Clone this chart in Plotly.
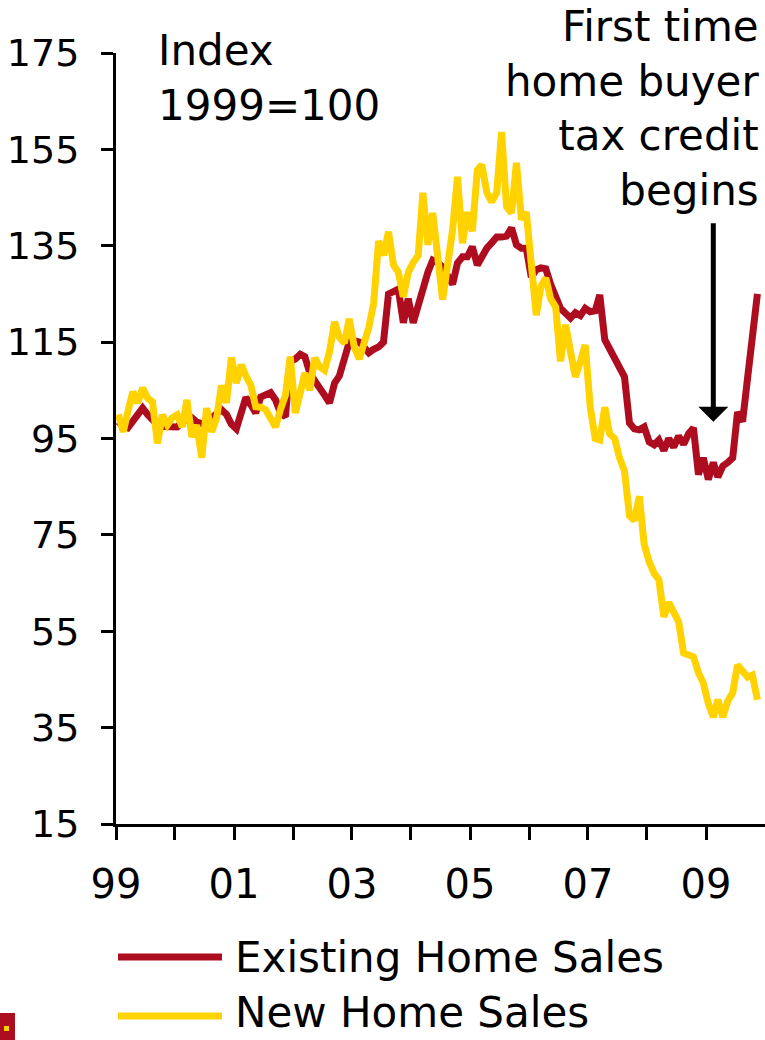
import pandas as pd
import plotly.graph_objects as go

# ---------------- data (index, 1999 = 100), monthly Jan-1999 .. Nov-2009 ----------------
start_month = "1999-01-01"
n_months = 131

existing_home_sales = [
    98.5, 97.5, 97.2, 98.5, 99.5, 101.3, 100.0, 99.0, 97.8, 97.5,
    97.4, 97.4, 97.4, 98.4, 99.0, 99.3, 98.4, 98.0, 97.8, 99.3,
    100.0, 101.0, 100.0, 98.0, 97.0, 100.5, 103.5, 102.0, 100.3, 103.6,
    104.0, 104.5, 103.0, 100.3, 99.5, 111.0, 111.5, 112.5, 112.0, 108.6,
    107.0, 105.7, 104.0, 102.4, 106.5, 108.0, 111.0, 115.0, 115.3, 115.0,
    114.0, 112.8, 113.5, 114.0, 115.0, 125.0, 125.5, 126.0, 119.0, 124.0,
    119.0, 123.0, 126.5, 129.5, 132.0, 131.5, 130.6, 128.5, 127.0, 131.4,
    132.7, 132.7, 134.8, 131.0, 133.0, 134.5, 135.6, 136.8, 136.8, 137.0,
    138.7, 135.2, 134.5, 134.5, 128.5, 130.0, 130.4, 130.2, 127.0, 124.4,
    122.0, 121.0, 120.0, 121.1, 120.5, 122.0, 121.3, 121.5, 124.8, 115.5,
    113.4, 111.5, 109.5, 107.8, 98.2, 97.0, 96.8, 97.4, 94.3, 93.7,
    94.7, 92.5, 95.0, 93.2, 95.5, 93.8, 96.0, 97.2, 87.5, 91.0,
    86.5, 90.0, 87.0, 89.3, 90.0, 91.0, 100.5, 98.5, 107.5, 116.5,
    125.0,
]

new_home_sales = [
    100.0, 96.4, 100.5, 104.7, 102.4, 105.5, 103.4, 102.6, 94.0, 99.9,
    97.8, 99.3, 99.9, 97.4, 103.0, 95.3, 97.8, 91.0, 101.3, 96.4,
    99.3, 106.0, 102.4, 111.8, 106.5, 110.3, 108.0, 106.0, 101.6, 101.5,
    101.0, 99.0, 97.4, 101.0, 104.0, 112.0, 100.3, 104.5, 108.6, 105.0,
    111.7, 109.9, 109.2, 113.0, 119.2, 116.0, 114.8, 119.8, 114.0, 111.5,
    114.8, 118.0, 123.0, 136.0, 133.0, 137.9, 131.0, 129.5, 124.4, 129.4,
    131.5, 133.0, 146.0, 135.2, 141.8, 133.0, 123.8, 131.0, 138.3, 149.3,
    135.5, 142.0, 138.0, 150.7, 151.8, 146.0, 144.1, 146.0, 158.6, 143.1,
    141.8, 152.2, 140.4, 142.0, 131.0, 120.6, 126.5, 128.3, 124.0, 122.3,
    111.0, 118.6, 113.0, 107.8, 111.0, 114.4, 101.5, 95.0, 94.7, 101.5,
    96.0, 95.0, 91.0, 88.3, 79.0, 78.0, 83.0, 73.0, 69.4, 67.0,
    65.7, 58.0, 61.0, 58.5, 57.0, 50.5, 50.0, 49.7, 46.4, 44.3,
    40.0, 37.2, 40.8, 37.2, 40.5, 42.2, 48.0, 47.0, 45.5, 45.9,
    40.8,
]

series_names = ["Existing Home Sales", "New Home Sales"]
y_tick_values = [15, 35, 55, 75, 95, 115, 135, 155, 175]
x_tick_years = list(range(1999, 2010))
x_tick_labels = ["99", "", "01", "", "03", "", "05", "", "07", "", "09"]
unit_note = "Index<br>1999=100"
event_note = "First time<br>home buyer<br>tax credit<br>begins"
event_date = "2009-02-15"
event_tip_value = 98.5
event_tail_value = 140.0

# ---------------- styling ----------------
RED = "#AE0D20"
YELLOW = "#FFD200"
FONT = "DejaVu Sans"
W, H = 765, 1040
ML, MR, MT, MB = 116, 0, 53, 216
PW, PH = W - ML - MR, H - MT - MB


def px_x(p):  # pixel -> paper x
    return (p - ML) / PW


def px_y(p):  # pixel -> paper y
    return (H - MB - p) / PH


dates = pd.date_range(start_month, periods=n_months, freq="MS") + pd.Timedelta(days=14)

fig = go.Figure()
fig.add_trace(go.Scatter(x=dates, y=existing_home_sales, mode="lines",
                         name=series_names[0],
                         line=dict(color=RED, width=7), showlegend=False))
fig.add_trace(go.Scatter(x=dates, y=new_home_sales, mode="lines",
                         name=series_names[1],
                         line=dict(color=YELLOW, width=7), showlegend=False))

fig.update_layout(
    width=W, height=H,
    margin=dict(l=ML, r=MR, t=MT, b=MB, pad=0),
    paper_bgcolor="white", plot_bgcolor="white",
    font=dict(family=FONT, color="black", size=38),
    showlegend=False,
)

fig.update_yaxes(
    range=[15, 175], tickvals=y_tick_values,
    showgrid=False, zeroline=False,
    showline=True, linecolor="black", linewidth=3,
    ticks="outside", ticklen=12, tickwidth=3, tickcolor="black",
    tickfont=dict(family=FONT, size=38, color="black"),
    ticklabelstandoff=14,
)
fig.update_xaxes(
    range=["1999-01-01", "2010-01-01"],
    tickvals=[f"{y}-01-01" for y in x_tick_years], ticktext=x_tick_labels,
    showgrid=False, zeroline=False,
    showline=True, linecolor="black", linewidth=3,
    ticks="outside", ticklen=13, tickwidth=3, tickcolor="black",
    tickfont=dict(family=FONT, size=40, color="black"),
    ticklabelstandoff=10,
)

annotations = [
    dict(text=unit_note, xref="paper", yref="paper", x=px_x(156), y=px_y(24),
         xanchor="left", yanchor="top", align="left", showarrow=False,
         font=dict(family=FONT, size=42, color="black")),
    dict(text=event_note, xref="paper", yref="paper", x=px_x(761), y=px_y(0),
         xanchor="right", yanchor="top", align="right", showarrow=False,
         font=dict(family=FONT, size=42, color="black")),
    dict(text="", x=event_date, y=event_tip_value, xref="x", yref="y",
         ax=event_date, ay=event_tail_value, axref="x", ayref="y",
         showarrow=True, arrowhead=1, arrowsize=1.0, arrowwidth=5,
         arrowcolor="black"),
    dict(text=series_names[0], xref="paper", yref="paper", x=px_x(233), y=px_y(957),
         xanchor="left", yanchor="middle", showarrow=False,
         font=dict(family=FONT, size=42, color="black")),
    dict(text=series_names[1], xref="paper", yref="paper", x=px_x(233), y=px_y(1012),
         xanchor="left", yanchor="middle", showarrow=False,
         font=dict(family=FONT, size=42, color="black")),
]
fig.update_layout(annotations=annotations)

shapes = [
    dict(type="line", xref="paper", yref="paper", x0=px_x(118), x1=px_x(222),
         y0=px_y(957), y1=px_y(957), line=dict(color=RED, width=7)),
    dict(type="line", xref="paper", yref="paper", x0=px_x(118), x1=px_x(222),
         y0=px_y(1016), y1=px_y(1016), line=dict(color=YELLOW, width=7)),
    dict(type="rect", xref="paper", yref="paper", x0=px_x(0), x1=px_x(15),
         y0=px_y(1013), y1=px_y(1040), fillcolor=RED, line=dict(width=0)),
    dict(type="rect", xref="paper", yref="paper", x0=px_x(4), x1=px_x(9),
         y0=px_y(1026), y1=px_y(1031), fillcolor=YELLOW, line=dict(width=0)),
]
fig.update_layout(shapes=shapes)

fig.write_html(
    "out.html",
    config={"displayModeBar": False},
    post_script="document.body.style.margin='0';document.body.style.overflow='hidden';",
)
